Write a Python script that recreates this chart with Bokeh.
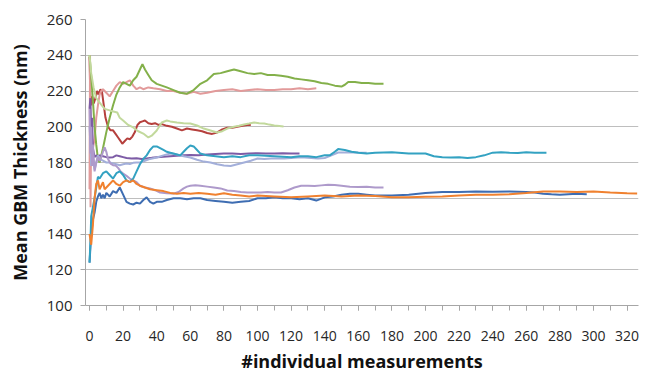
from bokeh.plotting import figure
from bokeh.models import FixedTicker, Range1d
from bokeh.embed import file_html
from bokeh.resources import INLINE

# ---- data ----
x_ticks = list(range(0, 321, 20))
x_minor = list(range(0, 321, 10))
y_ticks = list(range(100, 261, 20))

red_x = [0, 0.5, 1, 1.5, 2.5, 3.5, 4.5, 5.5, 6.5, 7.5, 8.5, 9.5, 11, 12.5, 14, 15.5, 17, 18.5, 19.5, 21,
         22.5, 24, 25.5, 27, 28.5, 30, 31.5, 33, 35, 37, 39, 41, 43, 46, 49, 52, 55, 58, 61, 64, 67, 70,
         73, 76, 79, 82, 85, 88, 91, 94, 96]
red_y = [239, 215, 212, 217, 213, 216, 220, 218, 221, 219, 212, 205, 200, 198, 198, 196, 194, 192, 190.5, 192,
         193.5, 193, 194.5, 197, 201, 202.5, 203, 203.5, 202, 201.5, 202, 201, 201.5, 200.5, 200, 199, 198, 199,
         198.5, 198, 197.5, 196.5, 196, 196.8, 198.5, 199.5, 199.5, 200, 200.5, 201, 201]

pink_x = [0, 0.3, 0.6, 1, 1.5, 2, 3, 4, 5, 6, 7, 8, 10, 12, 14, 16, 18, 20, 22, 24, 26, 28, 30, 32, 35, 38,
          42, 46, 50, 54, 58, 62, 66, 70, 75, 80, 85, 90, 95, 100, 105, 110, 115, 120, 125, 130, 135]
pink_y = [165, 240, 155, 200, 180, 188, 193, 205, 212, 218, 220, 221, 219, 217, 220, 223, 225, 224, 225, 226,
          223, 221, 222, 221, 222, 221.5, 221, 220, 220, 219, 218.5, 219.5, 218.5, 219, 220, 220.5, 221, 220,
          220.5, 221, 220.5, 220.5, 221, 221, 221.5, 221, 221.5]

green_x = [0, 1, 2, 3, 4, 5, 6, 8, 10, 12, 14, 16, 18, 20, 22, 24, 26, 28, 30, 31.5, 33, 35, 37, 40, 43, 46,
           50, 54, 58, 62, 66, 70, 74, 78, 82, 86, 90, 94, 98, 102, 106, 110, 114, 118, 122, 126, 130, 134,
           138, 142, 146, 150, 152, 154, 158, 162, 166, 170, 175]
green_y = [240, 228, 215, 200, 190, 182, 180, 188, 197, 205, 212, 218, 222, 225, 224, 223, 226, 228, 232, 235,
           232, 229, 226, 224, 223, 222, 220.5, 219, 218.5, 220.5, 224, 226, 229.5, 230, 231, 232, 231, 230,
           229.5, 230, 229, 229, 228.5, 228, 227, 226.5, 226, 225.5, 224.5, 224, 223, 222.5, 223.5, 225, 225,
           224.5, 224.5, 224, 224]

lgreen_x = [0, 1, 2.4, 4, 6.5, 9, 12.5, 16.5, 18, 20, 23, 26, 29, 32, 35, 37, 40, 43, 46, 48, 52, 56, 60,
            64, 68, 72, 76, 79, 82, 86, 89, 92, 95, 98, 101, 104, 107, 110, 113, 115.5]
lgreen_y = [240, 230, 222, 216, 213, 210, 209, 208, 205, 203.5, 201, 199.6, 197.5, 196.2, 194, 195, 197.9,
            202.4, 203.5, 203, 202.4, 202, 201.8, 200.7, 199, 197.9, 196.8, 197.5, 199, 200, 200.6, 201.3,
            201.8, 202.4, 202, 201.8, 201.2, 200.7, 200.4, 200.1]

purple_x = [0, 0.5, 1, 1.5, 2, 3, 4, 5, 6, 8, 10, 12, 14, 16, 18, 20, 22, 25, 28, 31, 34, 37, 40, 44, 48, 52,
            56, 60, 65, 70, 75, 80, 85, 90, 95, 100, 105, 110, 115, 120, 125]
purple_y = [210, 216, 195, 205, 188, 183, 184, 183.5, 184, 183.5, 183, 182.8, 183, 184, 183.5, 183, 182.5,
            182.2, 182.4, 182, 182.3, 182.6, 183, 183.2, 183.5, 183.8, 184, 184.2, 184, 184.5, 184.8, 185,
            185, 184.8, 185, 185.2, 185, 185, 185.2, 185, 185]

peri_x = [0, 0.5, 1, 2, 3, 4, 5, 6, 8, 10, 12, 14, 16, 18, 20, 22, 24, 26, 28, 30, 33, 36, 40, 44, 48, 52,
          56, 60, 64, 68, 72, 76, 80, 84, 88, 92, 96, 100, 104, 108, 112, 116, 120, 124, 128, 132, 136, 140,
          144, 148, 152, 156, 160, 165]
peri_y = [200, 190, 178, 183, 176, 180, 184, 182, 181, 180, 180, 179.5, 179, 178.5, 179, 179.4, 179.2, 179.8,
          180, 180, 181, 182, 182.8, 184, 185, 184.5, 183.5, 182.8, 181.5, 180.5, 180, 179, 178.3, 178, 179,
          180, 181, 182.2, 182, 182.2, 182.3, 182.2, 182.5, 182.8, 182.8, 182.5, 182.2, 182.5, 184, 185.6,
          185.6, 185.8, 185.6, 185.5]

lav_x = [0, 0.5, 1, 1.5, 2, 3, 4, 5, 6, 7, 8, 9, 10, 11, 12.5, 14, 15.5, 17, 18.5, 20, 22, 24, 26, 28, 30,
         33, 36, 39, 42, 46, 50, 53, 56, 58, 60, 63, 66, 70, 74, 78, 82, 86, 90, 94, 98, 102, 106, 110, 114,
         118, 122, 126, 130, 134, 138, 142, 146, 150, 155, 160, 165, 170, 175]
lav_y = [210, 185, 200, 178, 190, 175, 180, 183, 181, 183, 186, 188.5, 186, 182, 179.4, 178.5, 178.3, 177,
         175, 173.8, 172.5, 171, 170, 169, 167, 166, 165.5, 164.5, 163.2, 162.8, 162.6, 163.5, 165.5, 166.5,
         167, 167.3, 167, 166.5, 166, 165.5, 164.3, 164, 163.5, 163.2, 163.2, 163.2, 163.5, 163.2, 163.2,
         164.5, 166, 167, 167, 166.8, 167.2, 167.6, 167.4, 167, 166.5, 166.3, 166.5, 166, 166]

blue_x = [0, 1, 2, 3, 4, 5, 6, 7, 8, 9, 10, 12, 14, 16, 18, 20, 22, 24, 26, 28, 30, 32, 34, 36, 38, 40, 43,
          46, 50, 54, 58, 62, 66, 70, 75, 80, 85, 90, 95, 100, 105, 110, 115, 120, 125, 130, 135, 140, 145,
          150, 155, 160, 165, 170, 180, 190, 200, 210, 220, 230, 240, 250, 260, 265, 270, 275, 280, 285, 290,
          296]
blue_y = [124, 140, 148, 152, 158, 161, 163, 160, 162, 160, 163, 161, 164, 163, 166, 162, 158, 157, 156.5,
          157.5, 157, 159, 160.5, 158, 157, 158, 158, 159, 160, 160, 159.5, 160, 160, 159, 158.5, 158, 157.5,
          158, 158.5, 160, 160, 160.5, 160, 160, 159.5, 160, 158.7, 160.5, 161, 162, 162.5, 162.5, 162, 161.5,
          161.5, 162, 163, 163.5, 163.5, 163.8, 163.6, 163.8, 163.5, 163.2, 162.5, 162.2, 162, 162.3, 162.5,
          162.2]

teal_x = [0, 0.5, 1, 2, 3, 4, 5, 6, 8, 10, 12, 14, 16, 18, 20, 22, 24, 26, 28, 30, 32, 34, 36, 38, 40, 42,
          44, 46, 48, 50, 52, 54, 56, 58, 60, 62, 64, 66, 70, 75, 80, 85, 90, 95, 100, 110, 120, 125, 130,
          135, 140, 143, 146, 148, 152, 156, 160, 165, 170, 180, 190, 200, 205, 210, 215, 220, 225, 230, 235,
          240, 245, 250, 255, 260, 265, 272]
teal_y = [124, 135, 150, 155, 160, 166, 172, 171, 174, 175, 173, 171, 174, 175, 173, 170, 169, 171, 175, 179,
          182, 184, 187, 189, 189, 188, 187, 186, 185.5, 185, 184.5, 184, 186, 188, 189.5, 189, 187, 185, 184,
          183.5, 183, 183.5, 183, 184, 184, 183.5, 183, 183.5, 183.5, 183, 184, 184, 186, 187.5, 187, 186,
          185.5, 185, 185.5, 185.8, 185, 185, 183.5, 183, 182.8, 183, 182.5, 183, 184, 185.5, 185.8, 185.5,
          185.3, 185.7, 185.5, 185.5]

orange_x = [0, 1, 2, 3, 4, 5, 6, 7, 8, 9, 10, 12, 14, 16, 18, 20, 22, 24, 26, 28, 30, 33, 36, 40, 44, 48, 52,
            56, 60, 65, 70, 75, 80, 85, 90, 95, 100, 110, 120, 130, 140, 150, 160, 170, 180, 190, 200, 210,
            220, 230, 240, 250, 260, 270, 280, 290, 300, 310, 320, 326]
orange_y = [140, 134, 145, 160, 168, 170, 165, 167, 169, 165, 166, 168, 170, 168, 167, 169, 170, 169, 170,
            168, 167, 166, 165, 164.5, 164, 163, 162.5, 163, 162.5, 163, 162.5, 162, 162.8, 162, 161.5, 161,
            161.5, 161, 160.5, 161, 161.5, 161, 161.5, 161.2, 160.5, 160.5, 160.8, 161, 161.5, 162, 162,
            162.3, 163, 163.8, 163.8, 163.5, 163.8, 163.2, 162.8, 162.7]

series = [
    (red_x, red_y, "#B5403D"),
    (pink_x, pink_y, "#E29A9A"),
    (green_x, green_y, "#83B04A"),
    (lgreen_x, lgreen_y, "#C2D99C"),
    (purple_x, purple_y, "#7D5CA6"),
    (peri_x, peri_y, "#A3AFDA"),
    (lav_x, lav_y, "#AE9ACB"),
    (blue_x, blue_y, "#3E6DB2"),
    (teal_x, teal_y, "#33A2C2"),
    (orange_x, orange_y, "#F0812F"),
]

x_title = "#individual measurements"
y_title = "Mean GBM Thickness (nm)"

p = figure(width=645, height=375, output_backend="svg", toolbar_location=None,
           x_range=Range1d(-2.4, 326.8), y_range=Range1d(100, 260),
           min_border_left=85, min_border_right=7, min_border_top=19, min_border_bottom=70)
p.outline_line_color = None
p.background_fill_color = "white"
p.border_fill_color = "white"

for xs, ys, c in series:
    p.line(xs, ys, line_color=c, line_width=2)

p.xgrid.visible = False
p.ygrid.grid_line_color = "#BEBEBE"
p.ygrid.grid_line_width = 1

p.xaxis.ticker = FixedTicker(ticks=x_ticks, minor_ticks=x_minor)
p.yaxis.ticker = FixedTicker(ticks=y_ticks, minor_ticks=[])

for ax in (p.xaxis[0], p.yaxis[0]):
    ax.axis_line_color = "#A6A6A6"
    ax.major_tick_line_color = "#A6A6A6"
    ax.minor_tick_line_color = "#A6A6A6"
    ax.major_tick_in = 0
    ax.minor_tick_in = 0
    ax.major_tick_out = 5
    ax.minor_tick_out = 5
    ax.major_label_text_font = "Open Sans"
    ax.major_label_text_font_size = "14px"
    ax.major_label_text_color = "#262626"
    ax.axis_label_text_font = "Open Sans"
    ax.axis_label_text_font_style = "bold"
    ax.axis_label_text_font_size = "18px"
    ax.axis_label_text_color = "#111111"

p.yaxis.major_label_text_font_size = "15px"
p.yaxis.minor_tick_line_color = None
p.yaxis.axis_label = y_title
p.xaxis.axis_label = x_title
p.xaxis.major_label_standoff = 20
p.xaxis.axis_label_standoff = 5
p.yaxis.major_label_standoff = 8
p.yaxis.axis_label_standoff = 12

open("out.html", "w").write(file_html(p, INLINE))
